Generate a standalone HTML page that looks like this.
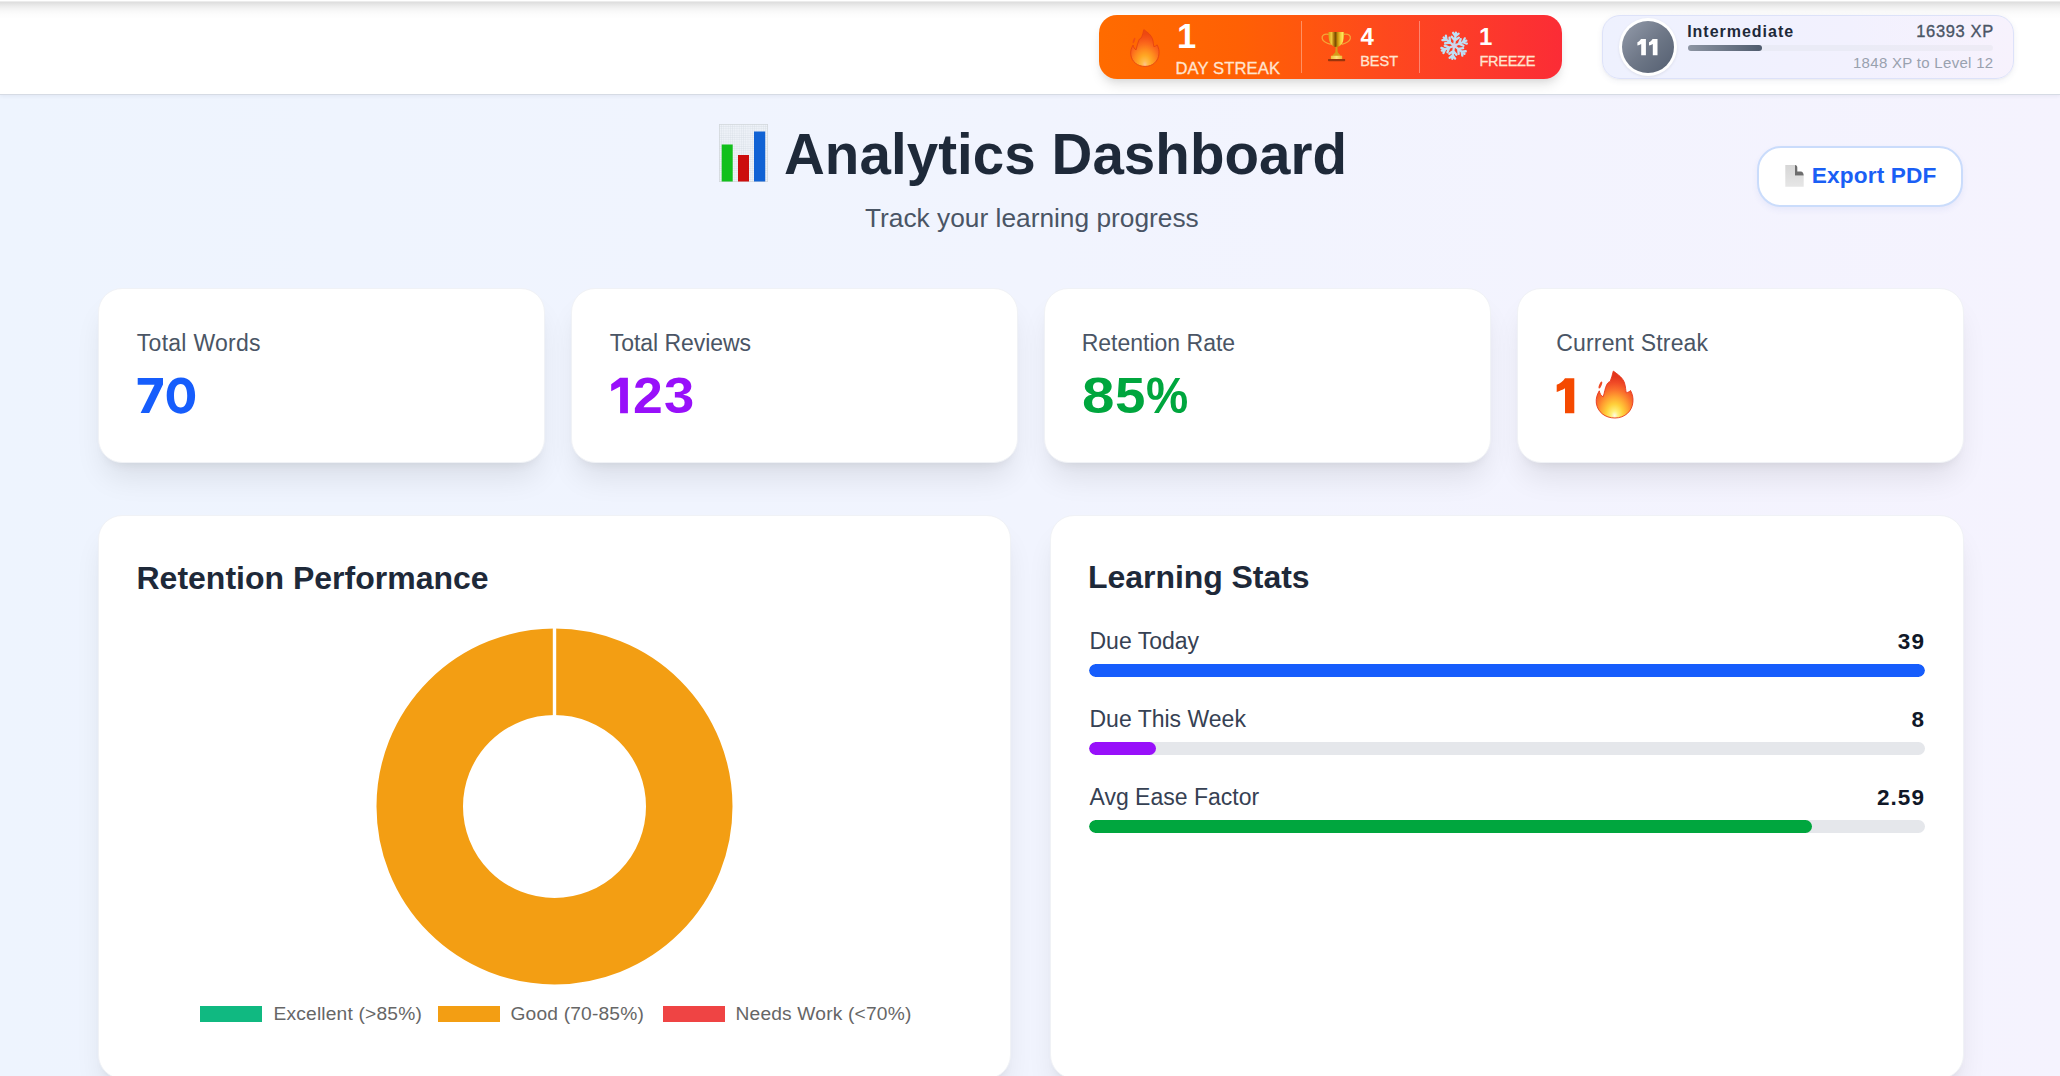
<!DOCTYPE html>
<html>
<head>
<meta charset="utf-8">
<style>
*{box-sizing:border-box;margin:0;padding:0}
html,body{width:2060px;height:1076px;overflow:hidden}
body{position:relative;font-family:"Liberation Sans",sans-serif;background:linear-gradient(90deg,#eef4fe 0%,#f1f4fe 50%,#f5f3fe 100%);}
.a{position:absolute}
.t{position:absolute;line-height:1;white-space:nowrap}
.b{font-weight:700}
#hdr{left:0;top:0;width:2060px;height:95px;background:#fff;border-bottom:1px solid #d6dbe4;box-shadow:0 1px 4px rgba(30,41,80,.07)}
#topsh{left:0;top:0;width:2060px;height:18px;background:linear-gradient(180deg,#fff 0px,#fff 1px,#e8e8e8 1.6px,#dedede 2.6px,#e5e5e5 4px,#ececec 6px,#f3f3f3 8.5px,#f8f8f8 11px,#fcfcfc 14px,#fefefe 18px)}
#pill{left:1099px;top:14.5px;width:463px;height:64.5px;border-radius:18px;background:linear-gradient(90deg,#ff6b00 0%,#ff6004 30%,#ff560f 45%,#fe4a1c 60%,#fd3d28 78%,#fb2c36 100%);box-shadow:0 8px 12px -2px rgba(0,0,0,.1),0 4px 8px -4px rgba(0,0,0,.1)}
.div{position:absolute;width:1.5px;background:rgba(255,255,255,.35)}
.pw{color:#fff}
.pl{color:#ffe4d0;letter-spacing:.9px;-webkit-text-stroke:.3px #ffe4d0}
#lvl{left:1602px;top:15px;width:412px;height:64px;border-radius:18px;border:1.5px solid #dde2f9;background:linear-gradient(90deg,#eef1fe 0%,#f2f1fe 60%,#f7f2fd 100%);box-shadow:0 2px 6px rgba(40,50,120,.07),0 1px 2px rgba(0,0,0,.04)}
.card{position:absolute;background:#fff;border-radius:24px;box-shadow:0 20px 30px -6px rgba(0,0,0,.09),0 8px 12px -8px rgba(0,0,0,.09);border:1px solid #f0f2f6}
.lab{color:#4a5565;font-size:23px}
.val{font-weight:700;font-size:50px}
.h2{color:#1e2939;font-size:32px;font-weight:700}
.sl{color:#364153;font-size:23px}
.sv{color:#101828;font-size:22.5px;font-weight:700;letter-spacing:1.1px;margin-right:-1.1px}
.track{position:absolute;left:1089px;width:836px;height:12.5px;border-radius:7px;background:#e5e7eb;overflow:hidden}
.fill{position:absolute;left:0;top:0;height:100%;border-radius:7px}
.lg{color:#666;font-size:19.2px;letter-spacing:.18px}
.lb{position:absolute;height:16px;top:1006px}
</style>
</head>
<body>
<div id="hdr" class="a"></div>
<div id="topsh" class="a"></div>

<!-- streak pill -->
<div id="pill" class="a"></div>
<div class="div" style="left:1300.5px;top:21px;height:52px"></div>
<div class="div" style="left:1418.5px;top:21px;height:52px"></div>

<!-- flame -->
<svg class="a" style="left:1128.6px;top:28px;opacity:.62" width="31.6" height="40" viewBox="0 0 41 51" preserveAspectRatio="none">
 <path d="M19.3 2.1 C24 5.5 29 9 30.5 14 C31.8 18 31.5 21 32.3 23.8 C33.5 23.5 35.5 22.8 36.5 21.5 C38.5 25 39.3 29 38.9 33 C38.3 42 31 49 20.9 49 C11 49 3.5 43 2.3 34 C1.8 29.5 3 25.5 5.3 21.8 C5.8 24.5 7 27 9.2 27.8 C10.5 24 11 19 12.8 15.5 C13.8 13.5 15.2 12.8 16.2 12.5 C17.5 9 18.5 5.5 19.3 2.1 Z" fill="url(#fg2)" stroke="#d8301a" stroke-width="1.2"/>
 <ellipse cx="6.4" cy="16" rx="1.2" ry="3.8" transform="rotate(22 6.4 16)" fill="#e8401e"/>
</svg>
<div class="t b pw" style="left:1177px;top:19.4px;font-size:34.5px">1</div>
<div class="t pl" style="left:1175.5px;top:61px;font-size:16.6px;letter-spacing:.1px">DAY STREAK</div>

<!-- trophy -->
<svg class="a" style="left:1318px;top:28px" width="36" height="36" viewBox="0 0 36 36">
 <defs><linearGradient id="tg" x1="10.4" x2="26.1" gradientUnits="userSpaceOnUse"><stop offset="0" stop-color="#d6a216"/><stop offset="0.2" stop-color="#efc63c"/><stop offset="0.36" stop-color="#a86e08"/><stop offset="0.46" stop-color="#7a4c04"/><stop offset="0.58" stop-color="#c58d08"/><stop offset="0.78" stop-color="#f4cf3a"/><stop offset="0.9" stop-color="#ffe45c"/><stop offset="1" stop-color="#e2ae1e"/></linearGradient>
 <linearGradient id="tb" x1="0" x2="1"><stop offset="0" stop-color="#eebf3a"/><stop offset=".5" stop-color="#ffe27a"/><stop offset="1" stop-color="#ecbb34"/></linearGradient></defs>
 <path d="M11 6.4 C5.8 5.2 3.6 8 4.2 10.6 C4.9 13.5 8.6 15.2 12.8 16.3" fill="none" stroke="#f3ae3c" stroke-width="1.3" stroke-opacity=".9"/>
 <path d="M25.5 6.4 C30.7 5.2 32.9 8 32.3 10.6 C31.6 13.5 27.9 15.2 23.7 16.3" fill="none" stroke="#f3ae3c" stroke-width="1.3" stroke-opacity=".9"/>
 <path d="M10.4 4 H26.1 C26.1 9 25.8 12.5 24.2 15.2 C22.8 17.4 21 18.6 19.6 19 H17 C15.5 18.6 13.7 17.4 12.3 15.2 C10.7 12.5 10.4 9 10.4 4 Z" fill="url(#tg)"/>
 <path d="M17.6 18.8 H19.4 L19.7 24.2 C20.5 25.4 22 26.3 22.6 27.9 H14.4 C15 26.3 16.5 25.4 17.3 24.2 Z" fill="#d49c1a"/>
 <rect x="12.9" y="27.7" width="11.3" height="3.5" rx=".4" fill="url(#tb)"/>
 <path d="M10.6 31 H26.6 C27.4 31 27.6 33.2 26.6 33.2 H10.6 C9.6 33.2 9.8 31 10.6 31 Z" fill="#9b350c"/>
</svg>
<div class="t b pw" style="left:1360.4px;top:24.9px;font-size:24px">4</div>
<div class="t pl" style="left:1360.2px;top:53.8px;font-size:14.5px;letter-spacing:0px">BEST</div>

<!-- snowflake -->
<svg class="a" style="left:1438px;top:29px" width="33" height="33" viewBox="-16.5 -16.5 33 33">
 <g transform="translate(-0.4,0.2) rotate(8)" stroke="#bfe0f5" stroke-width="2.3" stroke-linecap="round" stroke-linejoin="round" fill="none">
  <g id="arm"><path d="M0 0 V-13.2 M0 -5.2 L-3.6 -8.6 M0 -5.2 L3.6 -8.6 M0 -9.6 L-2.8 -12.6 M0 -9.6 L2.8 -12.6"/></g>
  <use href="#arm" transform="rotate(60)"/><use href="#arm" transform="rotate(120)"/><use href="#arm" transform="rotate(180)"/><use href="#arm" transform="rotate(240)"/><use href="#arm" transform="rotate(300)"/>
 </g>
 <circle cx="-0.4" cy="0.2" r="2.2" fill="#dcd0e6"/>
</svg>
<div class="t b pw" style="left:1479px;top:25px;font-size:24px">1</div>
<div class="t pl" style="left:1479.4px;top:53.8px;font-size:14.5px;letter-spacing:-.25px">FREEZE</div>

<!-- level card -->
<div id="lvl" class="a"></div>
<div class="a" style="left:1619px;top:18px;width:58px;height:58px;border-radius:50%;background:#fff;box-shadow:0 1px 3px rgba(0,0,0,.08)"></div>
<div class="a" style="left:1622px;top:21px;width:52px;height:52px;border-radius:50%;background:linear-gradient(135deg,#949cab 0%,#6f7888 50%,#535e70 100%)"></div>
<svg class="a" style="left:1637px;top:38.9px" width="21" height="17" viewBox="0 0 21 17"><path d="M4 0 H8.9 V16.3 H4.2 V5 C3 5.8 1.6 6.3 0.4 6.6 V3.3 C1.9 2.7 3.1 1.5 4 0 Z M15.6 0 H20.5 V16.3 H15.8 V5 C14.6 5.8 13.2 6.3 12 6.6 V3.3 C13.5 2.7 14.7 1.5 15.6 0 Z" fill="#fff"/></svg>
<div class="t b" style="left:1687.2px;top:24.3px;font-size:16px;color:#1e2939;letter-spacing:.98px">Intermediate</div>
<div class="a" style="left:1688px;top:44.5px;width:305px;height:6.5px;border-radius:4px;background:rgba(215,220,226,.28)"></div>
<div class="a" style="left:1688px;top:44.5px;width:73.5px;height:6.5px;border-radius:4px;background:linear-gradient(90deg,#8d95a3,#4f5b6d)"></div>
<div class="t" style="right:66.2px;top:23.3px;font-size:16.5px;color:#4a5565;letter-spacing:.63px;-webkit-text-stroke:.35px #4a5565">16393 XP</div>
<div class="t" style="right:66.5px;top:55.3px;font-size:15px;color:#99a1af;letter-spacing:.3px">1848 XP to Level 12</div>

<!-- title -->
<svg class="a" style="left:719px;top:123.5px" width="49" height="58" viewBox="0 0 49 58">
 <defs><pattern id="grid" width="2.2" height="2.2" patternUnits="userSpaceOnUse"><rect width="2.2" height="2.2" fill="#eef2f8"/><path d="M0 0 H2.2 M0 0 V2.2" stroke="#cfd6df" stroke-width=".5"/></pattern></defs>
 <rect x="0" y="0" width="49" height="58" fill="url(#grid)"/>
 <rect x="0.3" y="0.3" width="48.4" height="57.4" fill="none" stroke="#d3d7dc" stroke-width=".8"/>
 <rect x="2.7" y="20.5" width="11" height="37" fill="#12c01c"/>
 <rect x="19" y="31" width="11" height="26.5" fill="#cc0d0d"/>
 <rect x="35" y="7.5" width="11.2" height="50" fill="#1162d4"/>
</svg>
<div class="t b" style="left:784px;top:127px;font-size:56.5px;color:#1e2939;letter-spacing:.06px">Analytics Dashboard</div>
<div class="t" style="left:865px;top:204.7px;font-size:26.3px;color:#4a5565">Track your learning progress</div>

<!-- export button -->
<div class="a" style="left:1757px;top:146px;width:206px;height:60.5px;border-radius:24px;background:#fff;border:2px solid #cadcfb;box-shadow:0 3px 6px rgba(60,90,200,.07)"></div>
<svg class="a" style="left:1784px;top:164px" width="21" height="24" viewBox="0 0 21 24">
 <defs><linearGradient id="pg" x1="0" y1="0" x2="0" y2="1"><stop offset="0" stop-color="#d6d6d6"/><stop offset="1" stop-color="#e6e6e6"/></linearGradient></defs>
 <path d="M1.3 0.9 H11 V11.6 H19.7 V22.7 H1.3 Z" fill="url(#pg)"/>
 <path d="M11 0.9 C12.4 0.9 13.3 2 13.3 3.6 V7.6 H16.8 C18.6 7.6 19.7 9.4 19.7 11.6 H11 Z" fill="#6d6d6d"/>
</svg>
<div class="t b" style="left:1811.8px;top:164.3px;font-size:22.7px;color:#1a5ff5;letter-spacing:.11px">Export PDF</div>

<!-- stat cards -->
<div class="card" style="left:98px;top:288px;width:447px;height:175px"></div>
<div class="card" style="left:571px;top:288px;width:447px;height:175px"></div>
<div class="card" style="left:1044px;top:288px;width:447px;height:175px"></div>
<div class="card" style="left:1517px;top:288px;width:447px;height:175px"></div>

<div class="t lab" style="left:136.8px;top:331.9px;letter-spacing:.27px">Total Words</div>
<div class="t lab" style="left:609.8px;top:331.9px;letter-spacing:-.06px">Total Reviews</div>
<div class="t lab" style="left:1081.7px;top:331.9px">Retention Rate</div>
<div class="t lab" style="left:1556.2px;top:331.9px;letter-spacing:.18px">Current Streak</div>

<svg class="a" style="left:130px;top:370px" width="80" height="50" viewBox="130 370 80 50"><path d="M137.7 378.1 H163 V384.4 L149.2 412.9 H140.6 L154.6 384.7 H137.7 Z" fill="#165dfc"/><path fill-rule="evenodd" d="M180.9 377.4 C189.8 377.4 195.1 384.6 195.1 395.55 C195.1 406.5 189.8 413.7 180.9 413.7 C172 413.7 166.7 406.5 166.7 395.55 C166.7 384.6 172 377.4 180.9 377.4 Z M180.7 384 C176.4 384 174 388.4 174 395.7 C174 403 176.4 407.4 180.7 407.4 C185 407.4 187.2 403 187.2 395.7 C187.2 388.4 185 384 180.7 384 Z" fill="#165dfc"/></svg>
<svg class="a" style="left:605px;top:370px" width="30" height="50" viewBox="605 370 30 50"><path d="M620 377.8 H627.9 V413.2 H620.1 V386.4 L611.2 391.3 V384.3 Z" fill="#9810fa"/></svg>
<div class="t val" style="left:633.1px;top:371px;color:#9810fa;transform:scaleX(1.07);transform-origin:0 0">2</div>
<div class="t val" style="left:663.9px;top:371px;color:#9810fa;transform:scaleX(1.088);transform-origin:0 0">3</div>
<div class="t val" style="left:1082px;top:371px;color:#00a63e;transform:scaleX(1.167);transform-origin:0 0">8</div>
<div class="t val" style="left:1115.3px;top:371px;color:#00a63e;transform:scaleX(1.092);transform-origin:0 0">5</div>
<div class="t val" style="left:1146.2px;top:371px;color:#00a63e;transform:scaleX(.95);transform-origin:0 0">%</div>
<svg class="a" style="left:1556px;top:378px" width="19" height="36" viewBox="0 0 19 36"><path d="M9 0.2 H18.3 V35.3 H9 V10.2 C6.5 11.8 3.5 13 0.7 14 V6.8 C4 5.6 6.8 3.2 9 0.2 Z" fill="#f54900"/></svg>
<svg class="a" style="left:1594px;top:369px" width="41" height="51" viewBox="0 0 41 51">
 <defs><radialGradient id="fg2" cx="0.5" cy="0.9" r="0.78" fx="0.5" fy="0.95"><stop offset="0" stop-color="#fffbe8"/><stop offset="0.12" stop-color="#fff07a"/><stop offset="0.3" stop-color="#ffd03a"/><stop offset="0.5" stop-color="#ff9e30"/><stop offset="0.68" stop-color="#fa6d2c"/><stop offset="0.85" stop-color="#f04a26"/><stop offset="1" stop-color="#e3361c"/></radialGradient></defs>
 <path d="M19.3 2.1 C24 5.5 29 9 30.5 14 C31.8 18 31.5 21 32.3 23.8 C33.5 23.5 35.5 22.8 36.5 21.5 C38.5 25 39.3 29 38.9 33 C38.3 42 31 49 20.9 49 C11 49 3.5 43 2.3 34 C1.8 29.5 3 25.5 5.3 21.8 C5.8 24.5 7 27 9.2 27.8 C10.5 24 11 19 12.8 15.5 C13.8 13.5 15.2 12.8 16.2 12.5 C17.5 9 18.5 5.5 19.3 2.1 Z" fill="url(#fg2)" stroke="#e8391c" stroke-width=".9"/>
 <ellipse cx="6.4" cy="16" rx="1.2" ry="3.8" transform="rotate(22 6.4 16)" fill="#ee4a24"/>
</svg>

<!-- big cards -->
<div class="card" style="left:98px;top:515px;width:913px;height:564px"></div>
<div class="card" style="left:1050px;top:515px;width:914px;height:564px"></div>

<div class="t h2" style="left:136.5px;top:562px">Retention Performance</div>
<div class="t h2" style="left:1088px;top:561.2px;letter-spacing:-.05px">Learning Stats</div>

<!-- donut -->
<svg class="a" style="left:374px;top:626px" width="361" height="361" viewBox="0 0 361 361">
 <circle cx="180.5" cy="180.5" r="134.75" fill="none" stroke="#f39e13" stroke-width="86.5"/>
 <rect x="178.8" y="0" width="3.4" height="92" fill="#fff"/>
</svg>

<!-- legend -->
<div class="lb" style="left:200px;width:62px;background:#10b981"></div>
<div class="t lg" style="left:273.5px;top:1004px">Excellent (&gt;85%)</div>
<div class="lb" style="left:438px;width:61.5px;background:#f39e13"></div>
<div class="t lg" style="left:510.5px;top:1004px">Good (70-85%)</div>
<div class="lb" style="left:663px;width:61.7px;background:#ef4444"></div>
<div class="t lg" style="left:735.5px;top:1004px">Needs Work (&lt;70%)</div>

<!-- learning stats -->
<div class="t sl" style="left:1089.5px;top:630.2px">Due Today</div>
<div class="t sv" style="right:136px;top:631px">39</div>
<div class="track" style="top:664px"><div class="fill" style="width:100%;background:#165dfc"></div></div>

<div class="t sl" style="left:1089.5px;top:707.9px">Due This Week</div>
<div class="t sv" style="right:136px;top:708.8px">8</div>
<div class="track" style="top:742px"><div class="fill" style="width:67px;background:#9810fa"></div></div>

<div class="t sl" style="left:1089.5px;top:785.7px">Avg Ease Factor</div>
<div class="t sv" style="right:136px;top:786.5px">2.59</div>
<div class="track" style="top:820px"><div class="fill" style="width:722.5px;background:#00a63e"></div></div>

</body>
</html>
